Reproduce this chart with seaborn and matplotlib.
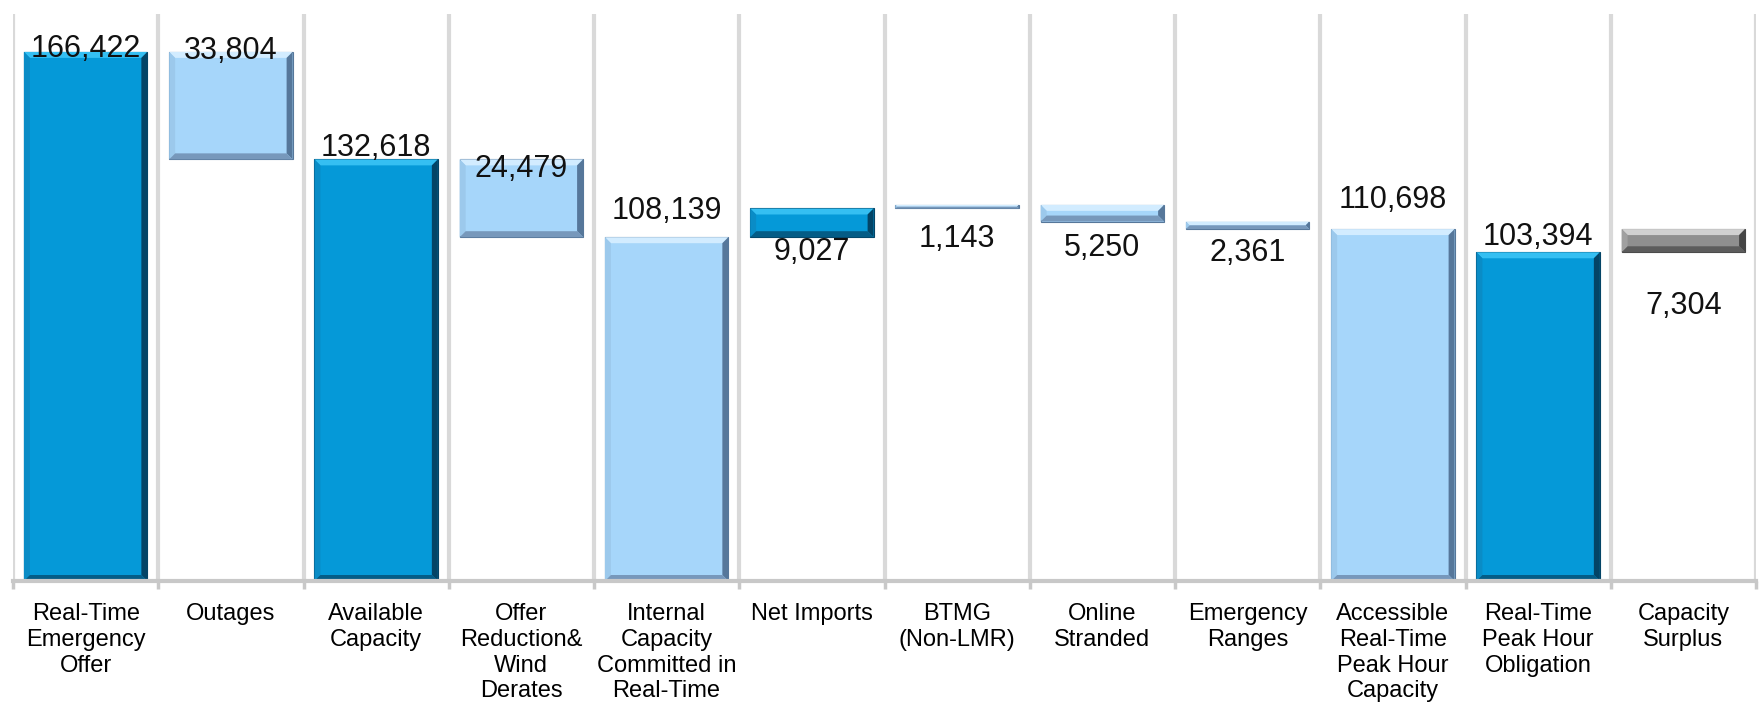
import numpy as np
import pandas as pd
import matplotlib
matplotlib.use("Agg")
import matplotlib.pyplot as plt
from matplotlib.patches import Polygon
import seaborn as sns

# waterfall data (MW)
categories = ["Real-Time Emergency Offer", "Outages", "Available Capacity",
              "Offer Reduction & Wind Derates", "Internal Capacity Committed in Real-Time",
              "Net Imports", "BTMG (Non-LMR)", "Online Stranded", "Emergency Ranges",
              "Accessible Real-Time Peak Hour Capacity", "Real-Time Peak Hour Obligation",
              "Capacity Surplus"]
tick_labels = ["Real-Time\nEmergency\nOffer", "Outages", "Available\nCapacity",
               "Offer\nReduction&\nWind\nDerates", "Internal\nCapacity\nCommitted in\nReal-Time",
               "Net Imports", "BTMG\n(Non-LMR)", "Online\nStranded", "Emergency\nRanges",
               "Accessible\nReal-Time\nPeak Hour\nCapacity", "Real-Time\nPeak Hour\nObligation",
               "Capacity\nSurplus"]
bar_low = [0, 132618, 0, 108139, 0, 108139, 117166, 113059, 110698, 0, 0, 103394]
bar_high = [166422, 166422, 132618, 132618, 108139, 117166, 118309, 118309, 113059,
            110698, 103394, 110698]
values = [166422, 33804, 132618, 24479, 108139, 9027, 1143, 5250, 2361, 110698, 103394, 7304]
kind = ["dark", "light", "dark", "light", "light", "dark", "light", "light", "light",
        "light", "dark", "gray"]

# label placement: above top or below bottom, offset in points
label_side = ["top", "top", "top", "top", "top", "bottom", "bottom", "bottom", "bottom",
              "top", "top", "bottom"]
label_off = [2, 1, 8, -7, 19, -11, -22, -19, -17, 21, 11, -39]

# face, top bevel, left bevel, right bevel, bottom bevel
shades = {"dark": ["#0599d8", "#35bff2", "#0a8cc6", "#034466", "#045c86"],
          "light": ["#a6d6fa", "#d2ecff", "#9cc9ec", "#56779a", "#7798bb"],
          "gray": ["#8f8f8f", "#d0d0d0", "#a0a0a0", "#454545", "#5c5c5c"]}

df = pd.DataFrame({"category": categories,
                   "height": np.array(bar_high) - np.array(bar_low),
                   "bottom": bar_low})

plt.rcParams["font.family"] = ["Liberation Sans", "DejaVu Sans"]

fig = plt.figure(figsize=(17.59, 7.06), dpi=100)
ax = fig.add_axes([13 / 1759, 125 / 706, 1743 / 1759, 567.5 / 706])

sns.barplot(data=df, x="category", y="height", bottom=df["bottom"].to_numpy(),
            color="#0599d8", width=0.85, errorbar=None, ax=ax, zorder=3)

ax.set_xlim(-0.5, len(categories) - 0.5)
ax.set_ylim(0, 178500)

# bevel size in data units (about 6 px)
bx = 6 / (1743 / len(categories))
by = 6 * 178500 / 567.5

for p, k in zip(list(ax.patches), kind):
    c = shades[k]
    p.set_facecolor(c[0])
    p.set_edgecolor(c[3])
    p.set_linewidth(0.8)
    x0, w = p.get_x(), p.get_width()
    y0, h = p.get_y(), p.get_height()
    x1, y1 = x0 + w, y0 + h
    d = min(by, h / 2)
    e = bx * d / by
    polys = [
        ([(x0, y1), (x1, y1), (x1 - e, y1 - d), (x0 + e, y1 - d)], c[1]),
        ([(x0, y0), (x0, y1), (x0 + e, y1 - d), (x0 + e, y0 + d)], c[2]),
        ([(x1, y0), (x1, y1), (x1 - e, y1 - d), (x1 - e, y0 + d)], c[3]),
        ([(x0, y0), (x1, y0), (x1 - e, y0 + d), (x0 + e, y0 + d)], c[4]),
    ]
    for pts, col in polys:
        ax.add_patch(Polygon(pts, closed=True, facecolor=col, edgecolor="none", zorder=3.5))

for i, (lo, hi, v, side, off) in enumerate(zip(bar_low, bar_high, values, label_side, label_off)):
    y = hi if side == "top" else lo
    ax.annotate(f"{v:,}", (i, y), xytext=(0, off), textcoords="offset points",
                ha="center", va="center", fontsize=22, color="#111111", zorder=5)

# category separators
ax.set_xticks(np.arange(len(categories)))
ax.set_xticklabels(tick_labels, fontsize=17, linespacing=1.22)
ax.set_xticks(np.arange(len(categories) + 1) - 0.5, minor=True)
ax.grid(False)
ax.grid(True, which="minor", axis="x", color="#d9d9d9", linewidth=3, zorder=0)
ax.tick_params(axis="x", which="major", length=0, pad=16)
ax.tick_params(axis="x", which="minor", length=6, width=2.5, color="#c8c8c8", direction="out")
ax.set_yticks([])
ax.set_xlabel("")
ax.set_ylabel("")
for s in ["top", "right", "left"]:
    ax.spines[s].set_visible(False)
ax.spines["bottom"].set_color("#c8c8c8")
ax.spines["bottom"].set_linewidth(3)
ax.spines["bottom"].set_zorder(4)

fig.savefig("out.png", dpi=100)
plt.close(fig)
